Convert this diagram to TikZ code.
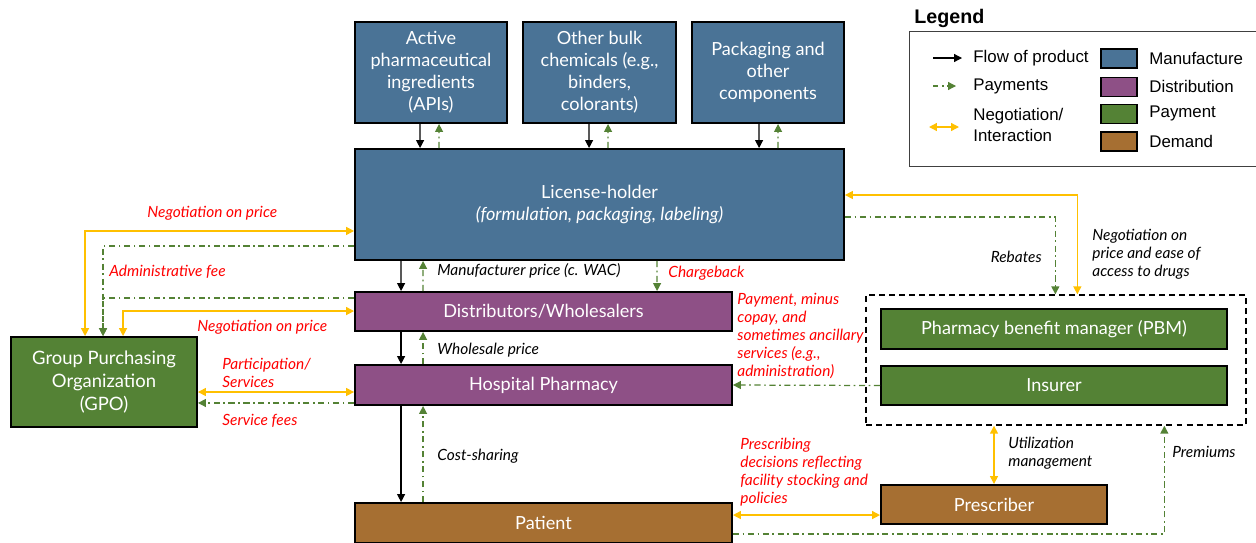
\documentclass[tikz,border=0pt]{standalone}
\usepackage{fontspec}
\setmainfont{Lato}
\newfontfamily\legendfont{Liberation Sans}
\usetikzlibrary{arrows.meta,calc}

\definecolor{manuf}{HTML}{4A7396}
\definecolor{distr}{HTML}{8E5086}
\definecolor{paycol}{HTML}{548235}
\definecolor{demand}{HTML}{A66F32}
\definecolor{negot}{HTML}{FFC000}
\definecolor{note}{HTML}{FF0000}

\tikzset{
    block/.style = {
        draw=black,
        line width=1.1pt,
        text=white,
        align=center,
        inner sep=0pt,
        font=\fontsize{10.3}{12.5}\selectfont
    },
    manufacture/.style = {block, fill=manuf},
    distribution/.style = {block, fill=distr},
    payer/.style = {block, fill=paycol},
    demander/.style = {block, fill=demand},
    flow/.style = {
        line width=0.7pt,
        black,
        -{Triangle[length=4.5pt,width=4.5pt]}
    },
    payment/.style = {
        line width=0.7pt,
        paycol,
        dash pattern=on 3.5pt off 2pt on 1pt off 2pt,
        -{Triangle[length=4.5pt,width=4.5pt]}
    },
    negotiation/.style = {
        line width=0.8pt,
        negot,
        {Triangle[length=4.5pt,width=4.5pt]}-{Triangle[length=4.5pt,width=4.5pt]}
    },
    remark/.style = {
        font=\fontsize{8.8}{10.2}\selectfont\itshape,
        align=left,
        inner sep=0pt
    },
    redremark/.style = {remark, text=note},
    legendtext/.style = {
        font=\legendfont\fontsize{9.6}{11.5}\selectfont,
        align=left,
        inner sep=0pt,
        anchor=west
    }
}

\begin{document}
\begin{tikzpicture}[x=0.02cm, y=-0.02cm]
    \useasboundingbox (0,0) rectangle (1256,542);

    % Draw all blocks
    \node[manufacture, minimum width=3.04cm, minimum height=2.02cm] (api) at (431,72.5) {Active\\pharmaceutical\\ingredients\\(APIs)};
    \node[manufacture, minimum width=3.06cm, minimum height=2.02cm] (bulk) at (599.5,72.5) {Other bulk\\chemicals (e.g.,\\binders,\\colorants)};
    \node[manufacture, minimum width=3.04cm, minimum height=2.02cm] (pack) at (768,72.5) {Packaging and\\other\\components};
    \node[manufacture, minimum width=9.78cm, minimum height=2.22cm] (holder) at (599.5,204.5) {License-holder\\\textit{(formulation, packaging, labeling)}};
    \node[distribution, minimum width=7.54cm, minimum height=0.78cm] (dist) at (543.5,311.5) {Distributors/Wholesalers};
    \node[distribution, minimum width=7.54cm, minimum height=0.8cm] (hosp) at (543.5,385) {Hospital Pharmacy};
    \node[demander, minimum width=7.54cm, minimum height=0.8cm] (patient) at (543.5,523) {Patient};
    \node[payer, minimum width=3.72cm, minimum height=1.8cm, font=\fontsize{10.5}{13.2}\selectfont] (gpo) at (104,382) {Group Purchasing\\Organization\\(GPO)};
    \node[draw, dash pattern=on 3.4pt off 2.3pt, line width=0.8pt, minimum width=7.6cm, minimum height=2.6cm] (benefit) at (1056,360) {};
    \node[payer, minimum width=6.92cm, minimum height=0.8cm] (pbm) at (1054,329) {Pharmacy benefit manager (PBM)};
    \node[payer, minimum width=6.92cm, minimum height=0.78cm] (insurer) at (1054,385.5) {Insurer};
    \node[demander, minimum width=4.52cm, minimum height=0.78cm] (presc) at (994,504.5) {Prescriber};

    % Draw supply arrows
    \draw[flow] ($(api.south west)+(66,0)$) -- ($(holder.north west)+(66,0)$);
    \draw[payment] ($(holder.north west)+(85,0)$) -- ($(api.south west)+(85,0)$);
    \draw[flow] ($(bulk.south west)+(67,0)$) -- ($(holder.north west)+(235,0)$);
    \draw[payment] ($(holder.north west)+(254,0)$) -- ($(bulk.south west)+(86,0)$);
    \draw[flow] ($(pack.south west)+(68,0)$) -- ($(holder.north west)+(405,0)$);
    \draw[payment] ($(holder.north west)+(424,0)$) -- ($(pack.south west)+(87,0)$);
    %
    \draw[flow] ($(holder.south west)+(47,0)$) -- ($(dist.north west)+(47,0)$);
    \draw[payment] ($(dist.north west)+(69,0)$) -- ($(holder.south west)+(69,0)$);
    \draw[payment] ($(holder.south west)+(303,0)$) -- ($(dist.north west)+(303,0)$);
    \draw[flow] ($(dist.south west)+(47,0)$) -- ($(hosp.north west)+(47,0)$);
    \draw[payment] ($(hosp.north west)+(69,0)$) -- ($(dist.south west)+(69,0)$);
    \draw[flow] ($(hosp.south west)+(47,0)$) -- ($(patient.north west)+(47,0)$);
    \draw[payment] ($(patient.north west)+(69,0)$) -- ($(hosp.south west)+(69,0)$);

    % Draw GPO connections
    \draw[negotiation] ($(gpo.north west)+(75,0)$) |- ($(holder.south west)+(0,-30)$);
    \draw[payment] ($(holder.south west)+(0,-15)$) -| ($(gpo.north west)+(93,0)$);
    \draw[payment] ($(dist.north west)+(0,7)$) -| ($(gpo.north west)+(93,0)$);
    \draw[negotiation] ($(gpo.north west)+(113,0)$) |- ($(dist.north west)+(0,20)$);
    \coordinate (hospA) at ($(hosp.west)+(0,7)$);
    \coordinate (hospB) at ($(hosp.south west)+(0,-3)$);
    \draw[negotiation] (gpo.east |- hospA) -- (hospA);
    \draw[payment] (hospB) -- (gpo.east |- hospB);

    % Draw payer connections
    \draw[payment] (insurer.west) -- (hosp.east);
    \draw[negotiation] ($(holder.east)+(0,-9.5)$) -| ($(benefit.north west)+(212,0)$);
    \draw[payment] ($(holder.east)+(0,12.5)$) -| ($(benefit.north west)+(190,0)$);
    \draw[negotiation] (presc.north) -- (presc.north |- benefit.south);
    \coordinate (patA) at ($(patient.north east)+(0,13)$);
    \draw[negotiation] (patA) -- (patA -| presc.west);
    \draw[payment] ($(patient.north east)+(0,32)$) -| ($(benefit.south west)+(299,0)$);

    % Draw labels
    \node[redremark, anchor=west] (negprice) at (147,213) {Negotiation on price};
    \node[redremark, anchor=west] (adminfee) at (109,272) {Administrative fee};
    \node[redremark, anchor=west] (negpricedist) at (197,327) {Negotiation on price};
    \node[redremark, anchor=west] (particip) at (222,372.5) {Participation/\\Services};
    \node[redremark, anchor=west] (servfee) at (222,421) {Service fees};
    \node[remark, anchor=west] (mprice) at (437,271) {Manufacturer price (c. WAC)};
    \node[redremark, anchor=west] (chargeback) at (668,273) {Chargeback};
    \node[remark, anchor=west] (wprice) at (437,350) {Wholesale price};
    \node[remark, anchor=west] (costshare) at (437,456) {Cost-sharing};
    \node[redremark, anchor=north west] (paymentnote) at (737,293) {Payment, minus\\copay, and\\sometimes ancillary\\services (e.g.,\\administration)};
    \node[remark, anchor=east] (rebates) at (1042,257) {Rebates};
    \node[remark, anchor=north west] (negaccess) at (1092,229) {Negotiation on\\price and ease of\\access to drugs};
    \node[remark, anchor=west] (utilman) at (1008,453) {Utilization\\management};
    \node[remark, anchor=west] (premiums) at (1172,452) {Premiums};
    \node[redremark, anchor=north west] (prescnote) at (740,438) {Prescribing\\decisions reflecting\\facility stocking and\\policies};

    % Draw legend
    \node[font=\legendfont\bfseries\fontsize{11.2}{13}\selectfont, anchor=west, inner sep=0pt] (legendtitle) at (914,18) {Legend};
    \node[draw=black!75, line width=0.6pt, minimum width=7.06cm, minimum height=2.7cm, anchor=north west, inner sep=0pt] (legend) at (909,31) {};
    \coordinate (lgflowA) at (933,58);
    \coordinate (lgflowB) at (962,58);
    \coordinate (lgpayA) at (933,86);
    \coordinate (lgpayB) at (956,86);
    \coordinate (lgnegA) at (929,127);
    \coordinate (lgnegB) at (959,127);
    \draw[flow] (lgflowA) -- (lgflowB);
    \draw[payment, dash pattern=on 3pt off 2pt on 1pt off 2pt] (lgpayA) -- (lgpayB);
    \draw[negotiation] (lgnegA) -- (lgnegB);
    \node[legendtext] (lgflow) at (973,58) {Flow of product};
    \node[legendtext] (lgpay) at (973,86) {Payments};
    \node[legendtext] (lgneg) at (973,125) {Negotiation/\\Interaction};
    \node[manufacture, line width=0.9pt, minimum width=0.72cm, minimum height=0.38cm] (swmanuf) at (1119,58.5) {};
    \node[distribution, line width=0.9pt, minimum width=0.72cm, minimum height=0.38cm] (swdistr) at (1119,87) {};
    \node[payer, line width=0.9pt, minimum width=0.72cm, minimum height=0.38cm] (swpay) at (1119,114) {};
    \node[demander, line width=0.9pt, minimum width=0.72cm, minimum height=0.38cm] (swdemand) at (1119,141.5) {};
    \node[legendtext] (lgmanuf) at (1149,58) {Manufacture};
    \node[legendtext] (lgdistr) at (1149,86) {Distribution};
    \node[legendtext] (lgpayer) at (1149,113) {Payment};
    \node[legendtext] (lgdemand) at (1149,141) {Demand};
\end{tikzpicture}
\end{document}
